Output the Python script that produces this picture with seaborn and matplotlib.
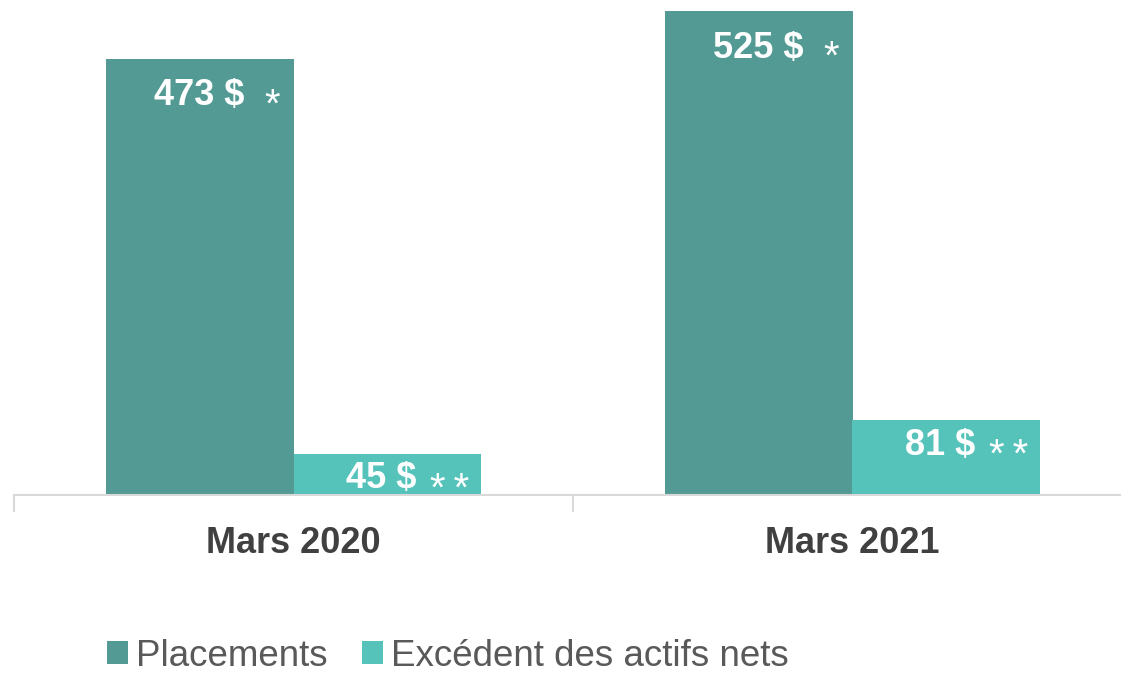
import matplotlib
matplotlib.use("Agg")
import matplotlib.pyplot as plt
import seaborn as sns
import pandas as pd
from matplotlib.patches import Patch

periods = ["Mars 2020", "Mars 2021"]
series = ["Placements", "Excédent des actifs nets"]
placements = [473, 525]
excedent = [45, 81]
marks = {"Placements": "*", "Excédent des actifs nets": "*\u2009*"}

colors = {"Placements": "#539a94", "Excédent des actifs nets": "#56c3bb"}

df = pd.DataFrame({
    "period": periods * 2,
    "series": [series[0]] * 2 + [series[1]] * 2,
    "value": placements + excedent,
})

sns.set_theme(style="white")
plt.rcParams["font.family"] = ["Liberation Sans", "DejaVu Sans"]

W, H = 1121, 674
PX = 0.72  # points per pixel at dpi 100
fig = plt.figure(figsize=(W / 100, H / 100), dpi=100)
ax = fig.add_axes([14 / W, 1 - 495 / H, (W - 14) / W, 495 / H])

sns.barplot(data=df, x="period", y="value", hue="series", palette=colors,
            width=0.672, saturation=1, linewidth=0, ax=ax, legend=False)

ax.set_xlabel("")
ax.set_ylabel("")
ax.set_yticks([])
for s in ["top", "right", "left"]:
    ax.spines[s].set_visible(False)
ax.spines["bottom"].set_color("#d9d9d9")
ax.spines["bottom"].set_linewidth(1.5)

ax.set_xticks([0, 1])
ax.set_xticklabels(periods, fontsize=26, fontweight="bold", color="#404040")
ax.tick_params(axis="x", which="major", length=0, pad=22)
ax.set_xticks([-0.5, 0.5, 1.5], minor=True)
ax.tick_params(axis="x", which="minor", bottom=True, length=12, width=1.5, color="#d9d9d9")

ax.set_xlim(-0.5, (W - 14) / 559 - 0.5)
ax.set_ylim(0, 537)

# (number right offset, number vertical offset, star right offset, star vertical offset) in px
offsets = {"Placements": (-49, -37, -13, -47),
           "Excédent des actifs nets": (-65, -25, -12, -36)}
for container, name in zip(ax.containers, series):
    num_dx, num_dy, star_dx, star_dy = offsets[name]
    for bar in container:
        h = bar.get_height()
        xr = bar.get_x() + bar.get_width()
        ax.annotate(f"{h:.0f} $", xy=(xr, h), xytext=(num_dx * PX, num_dy * PX),
                    textcoords="offset points", ha="right", va="center",
                    fontsize=26, fontweight="bold", color="white")
        ax.annotate(marks[name], xy=(xr, h), xytext=(star_dx * PX, star_dy * PX),
                    textcoords="offset points", ha="right", va="center",
                    fontsize=29, color="white")

handles = [Patch(facecolor=colors[s], edgecolor="none") for s in series]
fig.legend(handles, series, loc="center", bbox_to_anchor=(448 / W, 1 - 656 / H),
           ncol=2, frameon=False, fontsize=26.5, labelcolor="#595959",
           handlelength=0.55, handleheight=0.55, handletextpad=0.22, columnspacing=0.95)

fig.savefig("out.png", dpi=100)
